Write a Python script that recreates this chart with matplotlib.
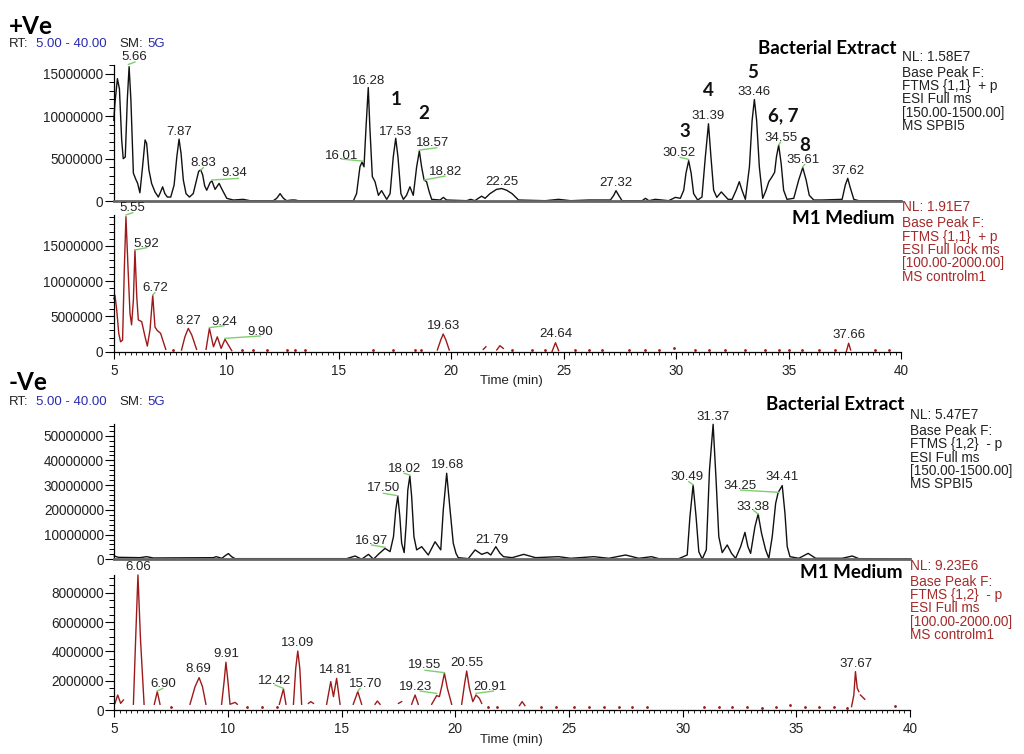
import numpy as np
import matplotlib
matplotlib.use("Agg")
import matplotlib.pyplot as plt
from matplotlib.ticker import MultipleLocator, FuncFormatter

plt.rcParams["font.family"] = ["Liberation Sans", "DejaVu Sans"]

NAN = float("nan")

# ---- traces, (time min, intensity in millions) ----
pos_bact = [
    (5.00, 9.5), (5.05, 11.5), (5.16, 14.4), (5.25, 13.2), (5.35, 7.2), (5.42, 5.0),
    (5.51, 5.2), (5.60, 11.9), (5.68, 15.8), (5.76, 11.9), (5.87, 3.3), (5.99, 2.5),
    (6.06, 2.1), (6.16, 1.0), (6.28, 4.1), (6.39, 7.2), (6.46, 6.8), (6.56, 3.7),
    (6.68, 2.1), (6.83, 1.1), (6.98, 0.5), (7.08, 1.1), (7.17, 1.7), (7.27, 0.9),
    (7.38, 0.5), (7.53, 0.5), (7.68, 1.9), (7.80, 5.2), (7.90, 7.3), (7.99, 5.6),
    (8.09, 2.5), (8.21, 0.9), (8.36, 0.5), (8.53, 0.9), (8.68, 2.5), (8.77, 3.5),
    (8.86, 3.7), (8.95, 3.1), (9.04, 1.8), (9.13, 1.3), (9.28, 2.2), (9.36, 2.4),
    (9.50, 1.4), (9.68, 2.1), (9.79, 1.5), (10.02, 0.35), (10.31, 0.15), (10.75, 0.23),
    (11.05, 0.07), (12.09, 0.07), (12.24, 0.35), (12.39, 0.9), (12.54, 0.35),
    (12.68, 0.07), (12.90, 0.15), (13.05, 0.15), (13.20, 0.07), (15.65, 0.07),
    (15.79, 0.9), (15.94, 4.05), (16.03, 4.6), (16.12, 4.05), (16.21, 8.7),
    (16.31, 13.35), (16.38, 8.7), (16.49, 2.9), (16.61, 2.3), (16.76, 0.7),
    (16.90, 1.25), (17.13, 0.23), (17.28, 0.9), (17.42, 5.2), (17.53, 7.4),
    (17.63, 5.2), (17.76, 0.9), (17.87, 0.23), (18.01, 0.7), (18.16, 1.7),
    (18.31, 0.7), (18.46, 4.05), (18.58, 5.9), (18.68, 4.05), (18.79, 2.5),
    (18.90, 2.3), (19.02, 1.1), (19.13, 0.23), (19.50, 0.15), (19.65, 0.46),
    (19.79, 0.15), (20.68, 0.07), (20.86, 0.23), (21.05, 0.07), (21.20, 0.35),
    (21.35, 0.6), (21.50, 0.35), (21.72, 0.9), (22.01, 1.4), (22.24, 1.5),
    (22.46, 1.3), (22.70, 0.9), (22.99, 0.15), (24.18, 0.07), (24.77, 0.23),
    (25.30, 0.07), (26.11, 0.15), (27.07, 0.15), (27.22, 0.7), (27.32, 1.25),
    (27.44, 0.7), (27.59, 0.07), (28.48, 0.07), (28.63, 0.35), (28.78, 0.07),
    (29.07, 0.23), (29.66, 0.07), (29.96, 0.46), (30.18, 0.35), (30.33, 1.3),
    (30.43, 3.3), (30.55, 4.76), (30.66, 3.3), (30.77, 0.9), (30.95, 0.15),
    (31.14, 0.5), (31.29, 5.2), (31.43, 9.1), (31.54, 5.2), (31.66, 1.3),
    (31.80, 0.46), (32.00, 1.1), (32.30, 0.23), (32.48, 0.23), (32.66, 1.3),
    (32.80, 2.3), (32.92, 1.3), (33.07, 0.23), (33.25, 4.05), (33.37, 9.5),
    (33.47, 11.95), (33.57, 9.5), (33.69, 4.05), (33.84, 0.35), (33.99, 1.3),
    (34.11, 2.3), (34.26, 2.9), (34.37, 3.4), (34.45, 5.2), (34.55, 6.6),
    (34.66, 4.45), (34.77, 1.3), (34.92, 0.23), (35.22, 0.35), (35.44, 2.5),
    (35.62, 3.95), (35.77, 2.5), (35.91, 0.7), (36.11, 0.15), (36.48, 0.15),
    (37.37, 0.23), (37.51, 1.9), (37.62, 2.7), (37.72, 1.7), (37.89, 0.23),
    (38.11, 0.07), (40.00, 0.05),
]

pos_m1 = [
    (5.00, 7.5), (5.05, 8.0), (5.13, 5.9), (5.22, 2.6), (5.30, 1.4), (5.39, 1.65),
    (5.47, 12.0), (5.54, 19.1), (5.63, 12.0), (5.72, 5.4), (5.79, 3.8), (5.87, 7.3),
    (5.94, 14.4), (6.02, 7.8), (6.09, 4.5), (6.24, 4.25), (6.39, 2.1), (6.49, 0.8),
    (6.61, 3.1), (6.73, 8.0), (6.83, 3.5), (6.93, 3.0), (7.08, 2.6), (7.20, 1.4),
    (7.31, 0.33), (NAN, NAN),
    (8.01, 0.24), (8.16, 2.1), (8.31, 3.3), (8.46, 2.4), (8.68, 0.33), (NAN, NAN),
    (9.10, 0.33), (9.25, 3.3), (9.43, 0.7), (9.60, 2.1), (9.77, 0.47), (9.94, 1.75),
    (10.09, 0.95), (10.24, 0.15), (NAN, NAN),
    (19.38, 0.24), (19.53, 1.65), (19.64, 2.5), (19.76, 1.65), (19.91, 0.24), (NAN, NAN),
    (21.42, 0.33), (21.54, 0.7), (NAN, NAN),
    (22.02, 0.24), (22.16, 0.85), (22.31, 0.47), (NAN, NAN),
    (24.48, 0.05), (24.63, 1.27), (24.77, 0.15), (NAN, NAN),
    (37.56, 0.05), (37.66, 1.2), (37.75, 0.24),
]
pos_m1_dots = [
    (7.64, 0.25), (10.68, 0.3), (11.20, 0.2), (11.79, 0.2), (12.68, 0.2), (13.05, 0.25),
    (13.50, 0.2), (16.53, 0.2), (17.42, 0.2), (18.38, 0.25), (18.64, 0.2), (22.70, 0.25),
    (23.59, 0.2), (24.18, 0.2), (25.50, 0.2), (26.10, 0.2), (26.70, 0.2), (27.90, 0.2),
    (28.63, 0.2), (29.22, 0.2), (29.90, 0.5), (30.85, 0.2), (31.44, 0.2), (32.18, 0.2),
    (33.07, 0.2), (33.96, 0.2), (34.55, 0.2), (35.00, 0.2), (35.60, 0.2), (36.33, 0.2),
    (37.07, 0.2), (38.85, 0.2), (39.44, 0.2),
]

neg_bact = [
    (5.00, 1.33), (5.18, 0.8), (6.13, 0.66), (6.42, 1.06), (6.72, 0.53), (9.36, 0.66),
    (9.48, 1.06), (9.73, 0.4), (9.92, 1.74), (10.02, 2.3), (10.16, 1.06), (10.31, 0.26),
    (15.22, 0.26), (15.59, 1.33), (15.88, 0.05), (16.18, 2.0), (16.40, 0.05),
    (16.66, 2.4), (16.91, 4.4), (17.13, 3.1), (17.28, 9.15), (17.38, 19.9),
    (17.47, 25.6), (17.56, 17.2), (17.64, 6.5), (17.75, 2.7), (17.84, 14.5),
    (17.91, 28.0), (18.00, 33.7), (18.08, 25.3), (18.18, 9.15), (18.30, 3.8),
    (18.52, 5.1), (18.81, 1.74), (19.11, 7.1), (19.36, 3.8), (19.47, 19.9),
    (19.62, 34.8), (19.77, 19.9), (19.91, 6.5), (20.03, 2.4), (20.13, 0.66),
    (20.57, 0.26), (20.87, 3.8), (21.16, 2.0), (21.41, 2.8), (21.56, 1.74),
    (21.78, 5.1), (21.97, 2.4), (22.12, 1.06), (22.50, 0.66), (23.01, 2.0),
    (23.53, 0.66), (24.55, 1.06), (25.07, 0.4), (26.09, 1.06), (26.75, 0.4),
    (27.49, 1.74), (28.07, 0.4), (28.63, 1.06), (28.95, 0.26), (29.83, 0.26),
    (30.20, 1.74), (30.32, 17.2), (30.46, 30.1), (30.59, 17.2), (30.71, 3.1),
    (30.86, 0.12), (31.04, 3.8), (31.18, 36.1), (31.34, 54.6), (31.47, 32.1),
    (31.59, 9.15), (31.74, 2.7), (31.96, 5.8), (32.15, 2.4), (32.33, 0.4),
    (32.55, 5.1), (32.74, 10.9), (32.87, 5.1), (32.99, 2.4), (33.18, 13.2),
    (33.32, 18.3), (33.47, 10.5), (33.65, 3.8), (33.79, 0.4), (33.94, 9.15),
    (34.09, 22.6), (34.20, 27.0), (34.38, 29.8), (34.50, 18.6), (34.60, 5.1),
    (34.72, 1.06), (35.11, 0.4), (35.52, 2.4), (35.85, 0.4), (37.02, 0.4),
    (37.46, 1.33), (37.75, 0.26), (40.00, 0.2),
]

neg_m1 = [
    (5.03, 0.47), (5.15, 1.04), (5.28, 0.47), (5.40, 0.7), (NAN, NAN),
    (5.84, 0.41), (5.94, 4.9), (6.04, 9.2), (6.15, 4.9), (6.31, 0.41), (NAN, NAN),
    (6.76, 0.41), (6.89, 1.27), (7.01, 0.41), (NAN, NAN),
    (8.33, 0.41), (8.55, 1.6), (8.73, 2.22), (8.88, 1.6), (9.03, 0.41), (NAN, NAN),
    (9.72, 0.41), (9.83, 1.95), (9.91, 3.27), (10.00, 1.95), (10.09, 0.41),
    (10.20, 0.47), (10.31, 0.54), (10.41, 0.41), (NAN, NAN),
    (12.26, 0.41), (12.44, 1.45), (12.55, 0.41), (NAN, NAN),
    (12.88, 0.41), (12.98, 2.85), (13.07, 4.03), (13.16, 2.85), (13.24, 0.41), (NAN, NAN),
    (13.54, 0.47), (13.64, 0.59), (13.76, 0.47), (NAN, NAN),
    (14.34, 0.41), (14.52, 1.95), (14.64, 0.93), (14.78, 2.17), (14.93, 0.41), (NAN, NAN),
    (15.51, 0.41), (15.71, 1.27), (15.88, 0.41), (NAN, NAN),
    (16.47, 0.41), (16.57, 0.63), (16.69, 0.41), (NAN, NAN),
    (17.50, 0.47), (17.64, 0.59), (NAN, NAN),
    (18.08, 0.41), (18.23, 1.04), (18.37, 0.41), (NAN, NAN),
    (18.96, 0.41), (19.18, 1.0), (19.30, 0.93), (19.40, 1.6), (19.52, 2.52),
    (19.65, 1.5), (19.84, 0.41), (NAN, NAN),
    (20.28, 0.41), (20.40, 1.72), (20.50, 2.67), (20.62, 1.5), (20.77, 0.59),
    (20.91, 1.04), (21.06, 0.81), (21.16, 0.47), (NAN, NAN),
    (22.82, 0.32), (22.94, 0.59), (23.06, 0.32), (NAN, NAN),
    (37.43, 0.25), (37.53, 1.04), (37.60, 2.63), (37.68, 1.5), (37.75, 1.27), (NAN, NAN),
    (37.82, 1.04), (38.01, 0.75),
]
neg_m1_dots = [
    (7.49, 0.2), (10.83, 0.2), (11.48, 0.2), (12.14, 0.2), (21.45, 0.2), (21.82, 0.2),
    (23.75, 0.2), (24.41, 0.2), (25.21, 0.2), (25.87, 0.2), (26.53, 0.2), (27.19, 0.2),
    (27.78, 0.2), (28.44, 0.2), (30.93, 0.2), (31.59, 0.2), (32.18, 0.2), (32.84, 0.2),
    (33.50, 0.15), (34.09, 0.2), (34.70, 0.35), (35.38, 0.2), (35.99, 0.2),
    (36.65, 0.2), (37.24, 0.15), (39.36, 0.3),
]

# ---- peak labels: (text, x, y in millions) and green leader lines ----
pos_bact_labels = [
    ("5.66", 5.91, 16.9), ("7.87", 7.90, 8.1), ("8.83", 8.98, 4.45), ("9.34", 10.36, 3.3),
    ("16.01", 15.13, 5.35), ("16.28", 16.31, 14.1), ("17.53", 17.53, 8.16),
    ("18.57", 19.17, 6.8), ("18.82", 19.76, 3.4), ("22.25", 22.25, 2.3),
    ("27.32", 27.32, 2.1), ("30.52", 30.11, 5.7), ("31.39", 31.42, 10.0),
    ("33.46", 33.47, 12.8), ("34.55", 34.67, 7.45), ("35.61", 35.62, 4.84),
    ("37.62", 37.62, 3.55),
]
pos_bact_leaders = [
    (5.65, 16.07, 5.94, 16.35), (8.86, 3.67, 8.98, 3.94), (9.36, 2.5, 10.53, 2.69),
    (16.06, 4.72, 15.13, 4.96), (18.58, 6.01, 19.35, 6.28), (18.79, 2.5, 19.72, 2.96),
    (30.55, 4.92, 30.18, 5.15), (34.55, 6.63, 34.64, 6.95), (35.62, 4.06, 35.71, 4.33),
]
pos_bact_ids = [
    ("1", 17.57, 11.95), ("2", 18.76, 10.3), ("3", 30.4, 8.16), ("4", 31.42, 12.96),
    ("5", 33.4, 15.07), ("6, 7", 34.75, 10.0), ("8", 35.7, 6.6),
]

pos_m1_labels = [
    ("5.55", 5.84, 20.3), ("5.92", 6.46, 15.3), ("6.72", 6.86, 9.0), ("8.27", 8.31, 4.4),
    ("9.24", 9.9, 4.25), ("9.90", 11.5, 2.75), ("19.63", 19.64, 3.64),
    ("24.64", 24.67, 2.46), ("37.66", 37.66, 2.36),
]
pos_m1_leaders = [
    (5.54, 19.34, 5.84, 19.67), (5.94, 14.39, 6.46, 14.72), (6.73, 8.02, 6.83, 8.35),
    (9.25, 3.40, 9.90, 3.68), (9.94, 1.89, 11.50, 2.22),
]

neg_bact_labels = [
    ("16.97", 16.32, 7.5), ("17.50", 16.84, 28.7), ("18.02", 17.75, 36.5),
    ("19.68", 19.67, 38.1), ("21.79", 21.6, 7.8), ("30.49", 30.2, 33.4),
    ("31.37", 31.34, 57.7), ("34.25", 32.51, 29.6), ("34.41", 34.37, 33.2),
    ("33.38", 33.09, 21.3),
]
neg_bact_leaders = [
    (16.91, 4.84, 16.32, 5.78), (17.47, 25.7, 16.84, 26.7), (18.0, 34.0, 17.75, 34.8),
    (30.46, 30.1, 30.27, 31.4), (34.23, 27.1, 32.55, 28.0), (33.32, 18.3, 33.13, 19.7),
]

neg_m1_labels = [
    ("6.06", 6.06, 9.77), ("6.90", 7.16, 1.79), ("8.69", 8.7, 2.79), ("9.91", 9.91, 3.81),
    ("12.42", 12.04, 2.01), ("13.09", 13.07, 4.56), ("14.81", 14.75, 2.72),
    ("15.70", 16.06, 1.79), ("19.55", 18.67, 3.06), ("19.23", 18.27, 1.56),
    ("20.55", 20.5, 3.2), ("20.91", 21.53, 1.6), ("37.67", 37.63, 3.15),
]
neg_m1_leaders = [
    (6.89, 1.31, 7.13, 1.49), (12.44, 1.49, 12.07, 1.72), (15.71, 1.31, 15.81, 1.49),
    (19.52, 2.56, 18.67, 2.72), (19.18, 1.15, 18.45, 1.31), (20.91, 1.15, 21.68, 1.31),
]

# ---- side texts ----
info_pos_bact = ["NL: 1.58E7", "Base Peak F:", "FTMS {1,1}  + p", "ESI Full ms",
                 "[150.00-1500.00]", "MS SPBI5"]
info_pos_m1 = ["NL: 1.91E7", "Base Peak F:", "FTMS {1,1}  + p", "ESI Full lock ms",
               "[100.00-2000.00]", "MS controlm1"]
info_neg_bact = ["NL: 5.47E7", "Base Peak F:", "FTMS {1,2}  - p", "ESI Full ms",
                 "[150.00-1500.00]", "MS SPBI5"]
info_neg_m1 = ["NL: 9.23E6", "Base Peak F:", "FTMS {1,2}  - p", "ESI Full ms",
               "[100.00-2000.00]", "MS controlm1"]

BLACK = "#111111"
RED = "#9e1a1a"
INFO_RED = "#a52a2a"
GREEN = "#7fcf6f"
BLUE = "#2a2ab0"

W, H = 1024, 754
fig = plt.figure(figsize=(W / 100, H / 100), dpi=100)


def add_ax(left, top, right, bottom):
    return fig.add_axes([left / W, 1 - bottom / H, (right - left) / W, (bottom - top) / H])


def ftext(x, y, s, **kw):
    fig.text(x / W, 1 - y / H, s, va="center", **kw)


def setup(ax, ymax, ystep, yminor, show_x):
    ax.set_xlim(5, 40)
    ax.set_ylim(0, ymax)
    ax.patch.set_alpha(0)
    ax.spines["top"].set_visible(False)
    ax.spines["right"].set_visible(False)
    ax.spines["left"].set_linewidth(0.9)
    ax.yaxis.set_major_locator(MultipleLocator(ystep))
    ax.yaxis.set_minor_locator(MultipleLocator(yminor))
    ax.yaxis.set_major_formatter(FuncFormatter(lambda v, p: f"{v:.0f}"))
    ax.tick_params(axis="y", which="major", length=6.5, width=0.8, labelsize=9.8,
                   pad=1, labelcolor="#222222")
    ax.tick_params(axis="y", which="minor", length=3.5, width=0.7)
    if show_x:
        ax.spines["bottom"].set_linewidth(0.9)
        ax.xaxis.set_major_locator(MultipleLocator(5))
        ax.xaxis.set_minor_locator(MultipleLocator(0.25))
        ax.tick_params(axis="x", which="major", length=5, width=0.8, labelsize=9.8,
                       labelcolor="#222222")
        ax.tick_params(axis="x", which="minor", length=2.2, width=0.6)
    else:
        ax.spines["bottom"].set_linewidth(2.0)
        ax.spines["bottom"].set_color("#666666")
        ax.set_xticks([])


def draw(ax, trace, color, labels, leaders, dots=None):
    t = np.array([p[0] for p in trace])
    y = np.array([p[1] for p in trace]) * 1e6
    ax.plot(t, y, color=color, lw=1.0, clip_on=False)
    if dots:
        ax.plot([d[0] for d in dots], [d[1] * 1e6 for d in dots], ls="none",
                marker="o", ms=1.0, color=color, clip_on=False)
    for x0, y0, x1, y1 in leaders:
        ax.plot([x0, x1], [y0 * 1e6, y1 * 1e6], color=GREEN, lw=1.0, clip_on=False)
    for s, x, yy in labels:
        ax.text(x, yy * 1e6, s, ha="center", va="center", fontsize=9.5,
                color="#222222", clip_on=False)


# +Ve
ax1 = add_ax(113.8, 65, 901.3, 201.3)
setup(ax1, 16.0e6, 5e6, 1e6, False)
draw(ax1, pos_bact, BLACK, pos_bact_labels, pos_bact_leaders)
for s, x, yy in pos_bact_ids:
    ax1.text(x, yy * 1e6, s, ha="center", va="center", fontsize=13.5,
             fontweight="bold", family="Lato", color="#111111")

ax2 = add_ax(113.8, 215, 901.3, 351.7)
setup(ax2, 19.34e6, 5e6, 1e6, True)
draw(ax2, pos_m1, RED, pos_m1_labels, pos_m1_leaders, pos_m1_dots)

# -Ve
ax3 = add_ax(114.3, 424.3, 910, 559.3)
setup(ax3, 54.6e6, 10e6, 2e6, False)
draw(ax3, neg_bact, BLACK, neg_bact_labels, neg_bact_leaders)

ax4 = add_ax(114.3, 575, 910, 710.3)
setup(ax4, 9.2e6, 2e6, 0.5e6, True)
draw(ax4, neg_m1, RED, neg_m1_labels, neg_m1_leaders, neg_m1_dots)

# headers
for y0, sign in ((26.5, "+Ve"), (383, "-Ve")):
    ftext(9, y0, sign, fontsize=17.5, fontweight="bold", family="Lato", ha="left")
for y0 in (43.7, 402):
    ftext(9, y0, "RT:", fontsize=9.5, ha="left", color="#222222")
    ftext(36.5, y0, "5.00 - 40.00", fontsize=9.5, ha="left", color=BLUE)
    ftext(119, y0, "SM:", fontsize=9.5, ha="left", color="#222222")
    ftext(147.5, y0, "5G", fontsize=9.5, ha="left", color=BLUE)

ftext(511, 381, "Time (min)", fontsize=9.5, ha="center", color="#222222")
ftext(511, 740, "Time (min)", fontsize=9.5, ha="center", color="#222222")

ftext(897, 48.3, "Bacterial Extract", fontsize=13.5, fontweight="bold", family="Lato", ha="right")
ftext(895, 218, "M1 Medium", fontsize=13.5, fontweight="bold", family="Lato", ha="right")
ftext(905, 405, "Bacterial Extract", fontsize=13.5, fontweight="bold", family="Lato", ha="right")
ftext(902, 573, "M1 Medium", fontsize=13.5, fontweight="bold", family="Lato", ha="right")

blocks = [
    (902, [56.7, 72.7, 86, 99.3, 112.7, 126], info_pos_bact, "#222222"),
    (902, [206.7, 223.3, 236.7, 250, 263.3, 276.7], info_pos_m1, INFO_RED),
    (909.7, [415, 431, 444.3, 457.7, 471, 484.3], info_neg_bact, "#222222"),
    (909.7, [566, 581.7, 595, 608.3, 621.7, 635], info_neg_m1, INFO_RED),
]
for x0, ys, lines, col in blocks:
    for yy, s in zip(ys, lines):
        ftext(x0, yy, s, fontsize=9.8, ha="left", color=col)

fig.savefig("out.png", dpi=100)
